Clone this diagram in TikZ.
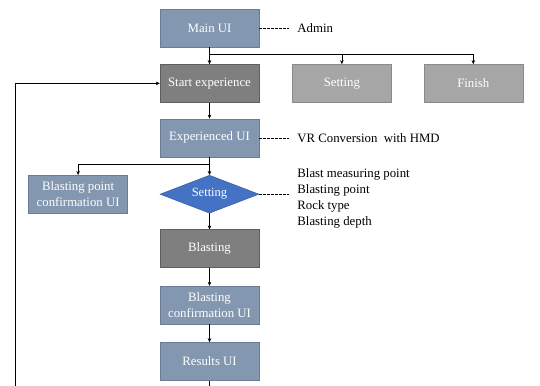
\documentclass[tikz,border=0pt]{standalone}
\usepackage{fontspec}
\setmainfont{Liberation Serif}
\usepackage{tikz}
\usetikzlibrary{arrows.meta,positioning,shapes.geometric}
\definecolor{uiblue}{HTML}{8497B0}
\definecolor{uiedge}{HTML}{6B7C94}
\definecolor{darkfill}{HTML}{7F7F7F}
\definecolor{darkedge}{HTML}{5E5E5E}
\definecolor{lightfill}{HTML}{A6A6A6}
\definecolor{lightedge}{HTML}{8A8A8A}
\definecolor{choiceblue}{HTML}{4472C4}
\definecolor{choiceedge}{HTML}{2F528F}

\begin{document}
\begin{tikzpicture}[x=1pt, y=1pt,
  node distance=17pt and 33pt,
  uibox/.style={rectangle, draw=uiedge, fill=uiblue, minimum width=99pt,
               minimum height=38pt, inner sep=1pt, text=white, align=center,
               font=\fontsize{12.8}{15.5}\selectfont},
  darkbox/.style={uibox, draw=darkedge, fill=darkfill},
  lightbox/.style={uibox, draw=lightedge, fill=lightfill},
  choice/.style={diamond, draw=choiceedge, fill=choiceblue, aspect=2.6,
               minimum width=99pt, minimum height=38pt, inner sep=0pt,
               text=white, font=\fontsize{12.5}{15}\selectfont},
  notetext/.style={inner xsep=8pt, inner ysep=2pt, align=left,
               font=\fontsize{12.8}{16}\selectfont},
  note/.style={dash pattern=on 2.5pt off 1.5pt, thin},
  arrow/.style={-{Stealth[length=4pt,width=3.5pt]}, thin},
]
\useasboundingbox (0,0) rectangle (540,385);

\node[uibox] (main) at (209.5,357) {Main UI};
\node[darkbox, below=of main] (start) {Start experience};
\node[lightbox, right=of start] (set) {Setting};
\node[lightbox, right=32pt of set] (finish) {Finish};
\node[uibox, below=16pt of start] (exp) {Experienced UI};
\node[choice, below=18pt of exp] (choice) {Setting};
\node[uibox, left=32pt of choice] (pointconf) {Blasting point\\confirmation UI};
\node[darkbox, below=16pt of choice] (blast) {Blasting};
\node[uibox, below=18pt of blast] (blastconf) {Blasting\\confirmation UI};
\node[uibox, below=18pt of blastconf] (results) {Results UI};

% notes on the right
\node[notetext, right=30pt of main] (admin) {Admin};
\node[notetext, right=30pt of exp] (vr) {VR Conversion~ with HMD};
\node[notetext, right=30pt of choice, yshift=-4pt] (params)
  {Blast measuring point\\Blasting point\\Rock type\\Blasting depth};

\draw[note] (main) -- (admin);
\draw[note] (exp) -- (vr);
\draw[note] (choice.east) -- (choice.east -| params.west);

\foreach \i/\j in {main/start, start/exp, exp/choice, choice/blast, blast/blastconf, blastconf/results} {
  \draw[arrow] (\i.south) -- (\j.north);
}
\draw[arrow] (main.south) -- ++(0,-7) -| (set.north);
\draw[arrow] (main.south) -- ++(0,-7) -| (finish.north);
\draw[arrow] (exp.south) -- ++(0,-7) -| (pointconf.north);

% loop back to the start
\begin{scope}
  \clip (0,0) rectangle (540,385);
  \coordinate (loopleft) at (15,-10);
  \draw[arrow] (results.south) |- (loopleft) |- (start.west);
\end{scope}

\end{tikzpicture}
\end{document}
